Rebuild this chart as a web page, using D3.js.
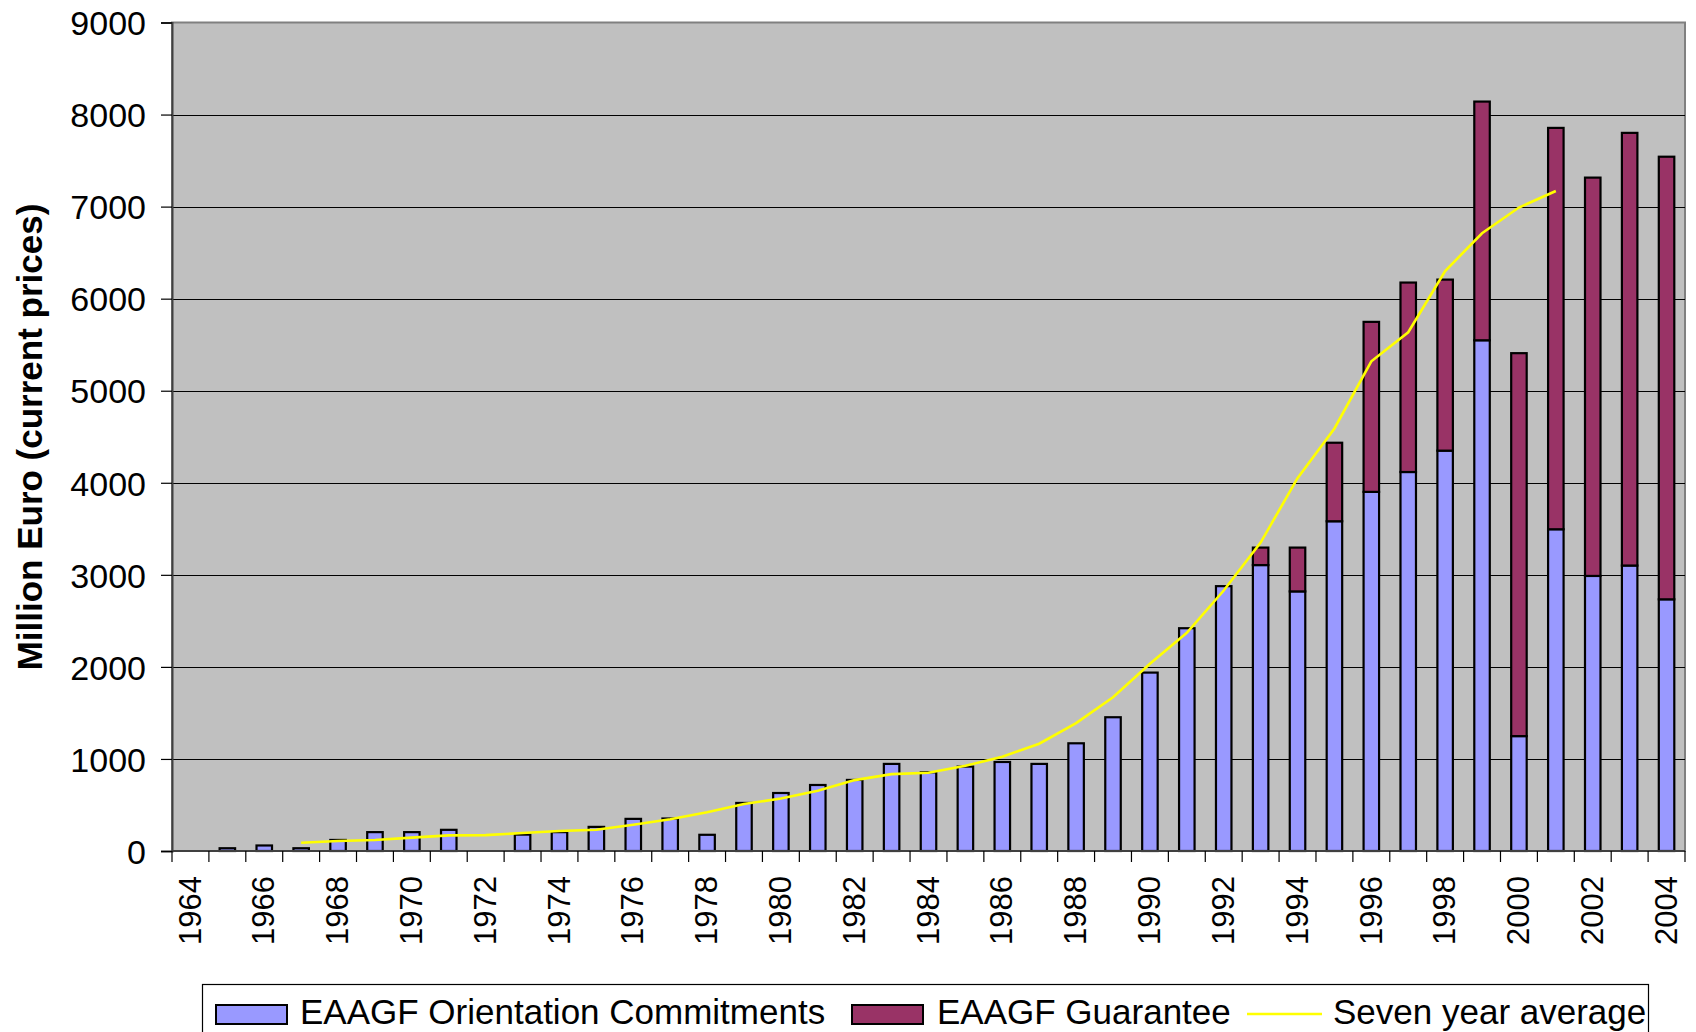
<!DOCTYPE html>
<meta charset="utf-8">
<head>
  <title>EAGGF commitments</title>
</head>
<style>
body { margin: 0; background: #fff; }
text { font-family: "Liberation Sans", Arial, sans-serif; fill: #000; }
</style>
<body>
<svg id="chart" width="1696" height="1032"></svg>

<script src="https://cdnjs.cloudflare.com/ajax/libs/d3/7.8.5/d3.min.js"></script>
<script>

// data (million euro, current prices)
var years = [1964, 1965, 1966, 1967, 1968, 1969, 1970, 1971, 1972, 1973,
             1974, 1975, 1976, 1977, 1978, 1979, 1980, 1981, 1982, 1983,
             1984, 1985, 1986, 1987, 1988, 1989, 1990, 1991, 1992, 1993,
             1994, 1995, 1996, 1997, 1998, 1999, 2000, 2001, 2002, 2003, 2004];

var orientation = [0, 30, 60, 30, 120, 205, 205, 230, 0, 178,
                   205, 262, 349, 353, 176, 522, 630, 717, 772, 946,
                   855, 917, 967, 946, 1170, 1453, 1938, 2420, 2877, 3106,
                   2820, 3582, 3901, 4117, 4349, 5548, 1248, 3495, 2988, 3101, 2734];

var guarantee = [0, 0, 0, 0, 0, 0, 0, 0, 0, 0,
                 0, 0, 0, 0, 0, 0, 0, 0, 0, 0,
                 0, 0, 0, 0, 0, 0, 0, 0, 0, 190,
                 476, 853, 1847, 2058, 1858, 2593, 4160, 4360, 4327, 4700, 4808];

var sevenYear = [null, null, null, 90, 108, 120, 145, 170, 172, 195,
                 218, 230, 285, 345, 420, 510, 570, 655, 770, 835,
                 850, 925, 1025, 1165, 1390, 1670, 2035, 2370, 2830, 3350,
                 4050, 4590, 5320, 5635, 6300, 6710, 6990, 7170, null, null, null];

var yTicks = [0, 1000, 2000, 3000, 4000, 5000, 6000, 7000, 8000, 9000];
var xLabels = [1964, 1966, 1968, 1970, 1972, 1974, 1976, 1978, 1980, 1982, 1984,
               1986, 1988, 1990, 1992, 1994, 1996, 1998, 2000, 2002, 2004];

var seriesNames = ["EAAGF Orientation Commitments", "EAAGF Guarantee", "Seven year average"];
var colors = ["#9999FF", "#993366", "#FFFF00"];

var svg = d3.select("#chart");

// plot area edges
var plotLeft = 172, plotRight = 1685, plotTop = 22.5, plotBottom = 851;

var x = d3.scaleBand().domain(years).range([plotLeft, plotRight]).padding(0);
var y = d3.scaleLinear().domain([0, 9000]).range([plotBottom, plotTop]);

var rows = years.map(function(yr, i) {
  return {year: yr, o: orientation[i], g: guarantee[i], avg: sevenYear[i]};
});

// plot background
svg.append("rect")
  .attr("x", plotLeft).attr("y", plotTop)
  .attr("width", plotRight - plotLeft).attr("height", plotBottom - plotTop)
  .attr("fill", "#C0C0C0")
  .attr("stroke", "#808080")
  .attr("stroke-width", 2);

// gridlines
svg.append("g").selectAll("line")
  .data(yTicks.filter(function(d){ return d > 0 && d < 9000; }))
  .enter().append("line")
  .attr("x1", plotLeft).attr("x2", plotRight)
  .attr("y1", function(d){ return Math.round(y(d)) + 0.5; })
  .attr("y2", function(d){ return Math.round(y(d)) + 0.5; })
  .attr("stroke", "#000")
  .attr("stroke-width", 1.2);

// bars
var barW = x.bandwidth() * 0.42;
var bars = svg.append("g");

bars.selectAll(".orient")
  .data(rows.filter(function(d){ return d.o > 0; }))
  .enter().append("rect")
  .attr("class", "orient")
  .attr("x", function(d){ return x(d.year) + (x.bandwidth() - barW) / 2; })
  .attr("y", function(d){ return y(d.o); })
  .attr("width", barW)
  .attr("height", function(d){ return y(0) - y(d.o); })
  .attr("fill", colors[0])
  .attr("stroke", "#000")
  .attr("stroke-width", 2.2);

bars.selectAll(".guar")
  .data(rows.filter(function(d){ return d.g > 0; }))
  .enter().append("rect")
  .attr("class", "guar")
  .attr("x", function(d){ return x(d.year) + (x.bandwidth() - barW) / 2; })
  .attr("y", function(d){ return y(d.o + d.g); })
  .attr("width", barW)
  .attr("height", function(d){ return y(d.o) - y(d.o + d.g); })
  .attr("fill", colors[1])
  .attr("stroke", "#000")
  .attr("stroke-width", 2.2);

// seven year average
var line = d3.line()
  .defined(function(d){ return d.avg != null; })
  .x(function(d){ return x(d.year) + x.bandwidth() / 2; })
  .y(function(d){ return y(d.avg); });

svg.append("path")
  .datum(rows)
  .attr("d", line)
  .attr("fill", "none")
  .attr("stroke", colors[2])
  .attr("stroke-width", 2.6);

// y axis
var yAxis = svg.append("g")
  .attr("transform", "translate(" + plotLeft + ",0)")
  .call(d3.axisLeft(y).tickValues(yTicks).tickSize(11).tickPadding(15).tickFormat(d3.format("d")));
yAxis.select(".domain").attr("stroke", "#404040").attr("stroke-width", 2);
yAxis.selectAll(".tick line").attr("stroke", "#000").attr("stroke-width", 1.2);
yAxis.selectAll("text")
  .style("font-family", "'Liberation Sans', Arial, sans-serif")
  .style("font-size", "34px")
  .attr("dy", "0.36em");

// x axis: ticks between categories, labels every second year
var xAxis = svg.append("g").attr("transform", "translate(0," + plotBottom + ")");
xAxis.append("line")
  .attr("x1", plotLeft).attr("x2", plotRight)
  .attr("y1", 0).attr("y2", 0)
  .attr("stroke", "#404040").attr("stroke-width", 2);
xAxis.selectAll(".bt")
  .data(years.concat(["end"]))
  .enter().append("line")
  .attr("class", "bt")
  .attr("x1", function(d){ return d === "end" ? plotRight : x(d); })
  .attr("x2", function(d){ return d === "end" ? plotRight : x(d); })
  .attr("y1", 0).attr("y2", 11)
  .attr("stroke", "#000").attr("stroke-width", 1.2);

var xl = svg.append("g")
  .attr("transform", "translate(0," + plotBottom + ")")
  .call(d3.axisBottom(x).tickValues(xLabels).tickSize(0));
xl.select(".domain").remove();
xl.selectAll("text")
  .style("font-family", "'Liberation Sans', Arial, sans-serif")
  .style("font-size", "31px")
  .attr("transform", "rotate(-90)")
  .attr("text-anchor", "end")
  .attr("x", -25)
  .attr("y", -1)
  .attr("dy", "0.36em");

// y axis title
svg.append("text")
  .attr("transform", "translate(42,437) rotate(-90)")
  .attr("text-anchor", "middle")
  .style("font-size", "35px")
  .style("font-weight", "bold")
  .text("Million Euro (current prices)");

// legend
var lg = svg.append("g");
lg.append("rect")
  .attr("x", 202.5).attr("y", 984.5)
  .attr("width", 1446).attr("height", 80)
  .attr("fill", "#fff")
  .attr("stroke", "#000").attr("stroke-width", 1.2);

var swX = [216, 852], txX = [300, 937, 1333];
[0, 1].forEach(function(i) {
  lg.append("rect")
    .attr("x", swX[i]).attr("y", 1005)
    .attr("width", 71).attr("height", 19)
    .attr("fill", colors[i])
    .attr("stroke", "#000").attr("stroke-width", 2);
});
lg.append("line")
  .attr("x1", 1247).attr("x2", 1322)
  .attr("y1", 1014).attr("y2", 1014)
  .attr("stroke", colors[2]).attr("stroke-width", 2.6);

lg.selectAll(".lt")
  .data(seriesNames)
  .enter().append("text")
  .attr("class", "lt")
  .attr("x", function(d, i){ return txX[i]; })
  .attr("y", 1024)
  .style("font-size", "35px")
  .text(function(d){ return d; });

</script>
</body>
